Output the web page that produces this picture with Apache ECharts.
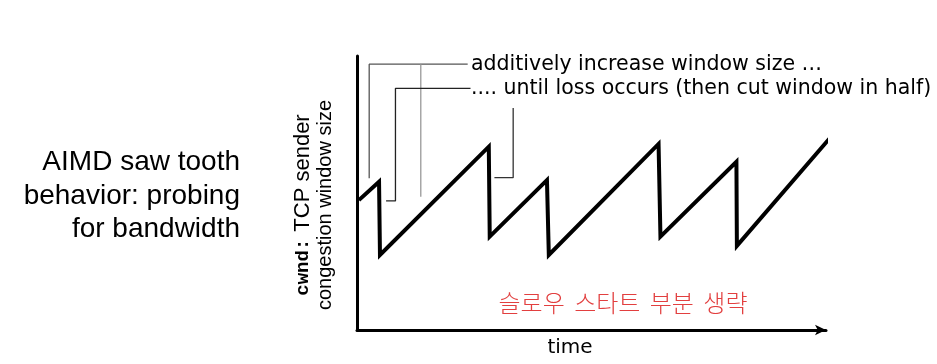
<!DOCTYPE html>
<html><head><meta charset="utf-8">
<script src="https://cdn.jsdelivr.net/npm/echarts@6/dist/echarts.min.js"></script>
<style>html,body{margin:0;padding:0;background:#fff}#c{width:937px;height:364px}</style>
</head><body><div id="c"></div>
<script>
// sawtooth: time vs cwnd (arbitrary units)
const timeVals = [0.4, 4.7, 4.9, 28.1, 28.3, 40.5, 40.9, 64.3, 64.7, 80.9, 81.0, 101.9];
const cwndVals = [47.4, 54.1, 27.4, 66.9, 34.1, 54.7, 27.4, 67.9, 34.1, 61.4, 30.7, 72.2];
// annotation leader lines in (time, cwnd) units
const leaderA = [[23.6, 97.0], [2.6, 97.0], [2.6, 55.4]];
const leaderB = [[13.6, 97.0], [13.6, 48.6]];
const leaderC = [[24.2, 88.2], [8.2, 88.2], [8.2, 47.1], [6.2, 47.1]];
const leaderD = [[33.3, 81.0], [33.3, 55.6], [29.3, 55.6]];
const xName = 'time';
const yNameBold = 'cwnd:';
const yNameRest1 = 'TCP sender';
const yNameLine2 = 'congestion window size';
const note1 = 'additively increase window size …';
const note2 = '.... until loss occurs (then cut window in half)';
const sideText = ['AIMD saw tooth', 'behavior: probing', 'for bandwidth'];
const koreanWords = ['슬로우', '스타트', '부분', '생략'];

const chart = echarts.init(document.getElementById('c'), null, {renderer: 'canvas'});
const sawData = timeVals.map((t, i) => [t, cwndVals[i]]);
const annoFont = '"DejaVu Sans", sans-serif';
function leader(data, color) {
  return {type: 'line', data: data, symbol: 'none', silent: true, clip: false,
    lineStyle: {color: color, width: 1.3}, z: 1, animation: false};
}
chart.setOption({
  animation: false,
  grid: {left: 357, right: 111, top: 56, bottom: 34},
  xAxis: {type: 'value', min: 0, max: 100,
    axisLine: {show: true, symbol: ['none', 'arrow'], symbolSize: [8, 11],
      lineStyle: {color: '#000', width: 3}},
    axisTick: {show: false}, axisLabel: {show: false}, splitLine: {show: false},
    name: xName, nameLocation: 'middle', nameGap: 8,
    nameTextStyle: {fontFamily: annoFont, fontSize: 20, color: '#000', padding: [0, 43, 0, 0]}},
  yAxis: {type: 'value', min: 0, max: 100,
    axisLine: {show: true, lineStyle: {color: '#000', width: 3}},
    axisTick: {show: false}, axisLabel: {show: false}, splitLine: {show: false}},
  series: [
    {type: 'line', data: sawData, symbol: 'none', clip: false, z: 3,
      lineStyle: {color: '#000', width: 4, join: 'miter', cap: 'butt'}},
    leader(leaderA, '#555'),
    leader(leaderB, '#999'),
    leader(leaderC, '#222'),
    leader(leaderD, '#333')
  ],
  graphic: [
    {type: 'text', x: 240, y: 196, style: {text: sideText.join('\n'), align: 'right', verticalAlign: 'middle',
      font: '28px "Liberation Sans", Arial, sans-serif', lineHeight: 33.5, fill: '#000'}},
    {type: 'text', x: 471, y: 65, style: {text: note1, align: 'left', verticalAlign: 'middle',
      font: '20.5px ' + annoFont, fill: '#000'}},
    {type: 'text', x: 471, y: 89, style: {text: note2, align: 'left', verticalAlign: 'middle',
      font: '20.5px ' + annoFont, fill: '#000'}},
    {type: 'text', x: 623, y: 303, style: {
      text: koreanWords.map(w => '{w|' + w + '}').join('{s| }'),
      align: 'center', verticalAlign: 'middle',
      rich: {
        w: {font: '300 24px "Noto Sans CJK KR", sans-serif', fill: '#e23f3f'},
        s: {font: '24px "Noto Sans CJK KR", sans-serif', padding: [0, 2, 0, 2]}
      }}},
    {type: 'text', x: 314, y: 205, rotation: Math.PI / 2, style: {
      text: '{b|' + yNameBold + '}{r|' + yNameRest1 + '}\n{r2|' + yNameLine2 + '}',
      align: 'center', verticalAlign: 'middle', lineHeight: 22,
      rich: {
        b: {font: 'bold 19px "Liberation Mono", "Courier New", monospace', fill: '#000', lineHeight: 22, padding: [0, 7, 0, 0]},
        r: {font: '22px "Liberation Sans", Arial, sans-serif', fill: '#000', lineHeight: 22},
        r2: {font: '20px "Liberation Sans", Arial, sans-serif', fill: '#000', lineHeight: 22}
      }}}
  ]
});
</script></body></html>
